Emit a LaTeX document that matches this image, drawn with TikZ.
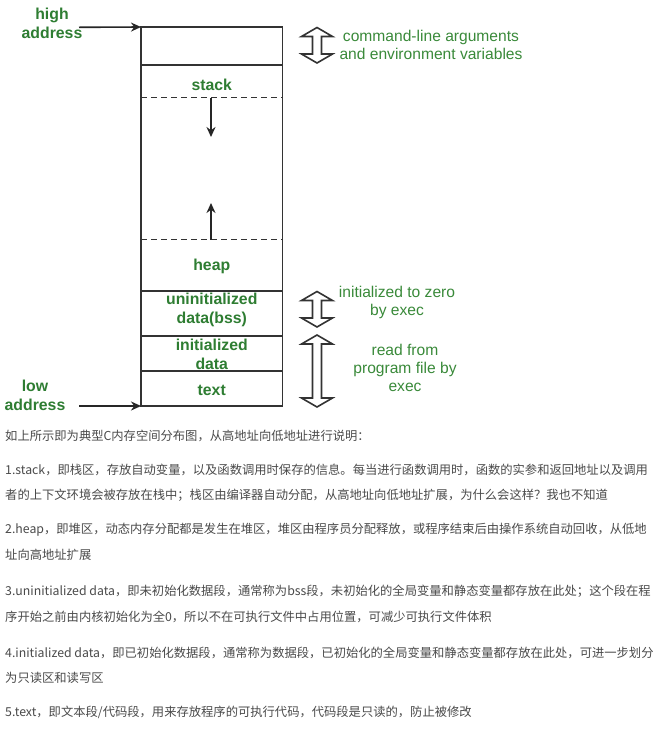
\documentclass[tikz,border=0pt]{standalone}
\usepackage{fontspec}
\setsansfont{Liberation Sans}
\newfontfamily\cjk{Noto Sans CJK SC}
\usetikzlibrary{arrows.meta}
\definecolor{lblgreen}{HTML}{2E7D32}
\definecolor{notegreen}{HTML}{3A8A3A}
\definecolor{txtgray}{HTML}{4A4A4A}
\definecolor{boxline}{HTML}{333333}
\newcommand\hollowarrow[3]{%
  \draw[boxline, line width=1.6pt, fill=white, line join=miter]
    (#1,#2) -- ++(15.5,9) -- ++(-11,0) -- (#1+4.5,#3-9) -- ++(11,0) -- (#1,#3)
    -- ++(-15.5,-9) -- ++(11,0) -- (#1-4.5,#2+9) -- ++(-11,0) -- cycle;}
\begin{document}
\begin{tikzpicture}[x=1pt,y=-1pt,
  seg/.style={draw=boxline, line width=1.8pt, minimum width=141.5pt, inner sep=0pt, outer sep=0pt},
  lbl/.style={font=\sffamily\bfseries\fontsize{15.8}{19}\selectfont, text=lblgreen, align=center, inner sep=0pt},
  note/.style={font=\sffamily\fontsize{15.6}{18}\selectfont, text=notegreen, align=center, inner sep=0pt},
  para/.style={font=\cjk\fontsize{12.3}{15}\selectfont, text=txtgray, anchor=west, inner sep=0pt},
  ptr/.style={-{Stealth[length=10pt,width=9pt]}, line width=1.6pt, draw=black!85},
  dashline/.style={draw=boxline, line width=1.8pt, dash pattern=on 6pt off 4pt}]
\fill[white] (0,0) rectangle (667,729);
\useasboundingbox (0,0) rectangle (667,729);
% memory segments
\node[seg, minimum height=38pt] (args) at (211.75,46) {};
\node[seg, minimum height=226pt] (mid) at (211.75,178) {};
\node[seg, minimum height=45pt] (bss) at (211.75,313.5) {};
\node[seg, minimum height=35pt] (data) at (211.75,353.5) {};
\node[seg, minimum height=35pt] (textseg) at (211.75,388.5) {};
\coordinate (d1) at (141,97.5); \coordinate (d2) at (282.5,97.5);
\coordinate (d3) at (141,239.5); \coordinate (d4) at (282.5,239.5);
\draw[dashline] (d1) -- (d2);
\draw[dashline] (d3) -- (d4);
\coordinate (sd) at (211,97.5); \coordinate (se) at (211,137);
\coordinate (hs) at (211,239.5); \coordinate (he) at (211,203);
\draw[ptr] (sd) -- (se);
\draw[ptr] (hs) -- (he);
% labels
\node[lbl] (stacklbl) at (211.75,85) {stack};
\node[lbl] (heaplbl) at (211.75,266) {heap};
\node[lbl] (bsslbl) at (211.75,310) {uninitialized\\data(bss)};
\node[lbl] (datalbl) at (211.75,354) {initialized\\data};
\node[lbl] (textlbl) at (211.75,390) {text};
\node[lbl] (high) at (52,23.5) {high\\address};
\node[lbl] (low) at (35,395) {low\\address};
\coordinate (hastart) at (79,27.3);
\coordinate (lastart) at (79,406);
\draw[ptr] (hastart) -- (args.north west);
\draw[ptr] (lastart) -- (textseg.south west);
% notes
\hollowarrow{317}{27.5}{63}
\hollowarrow{317}{291.5}{327}
\hollowarrow{317}{335}{407}
\node[note] (argsnote) at (431,44.5) {command-line arguments\\and environment variables};
\node[note] (bssnote) at (397,302.5) {initialized to zero\\by exec};
\node[note] (datanote) at (405,368) {read from\\program file by\\exec};
% paragraph
\node[para] (p0) at (5,436) {如上所示即为典型C内存空间分布图，从高地址向低地址进行说明：};
\node[para] (p1) at (5,469.5) {1.stack，即栈区，存放自动变量，以及函数调用时保存的信息。每当进行函数调用时，函数的实参和返回地址以及调用};
\node[para] (p2) at (5,495) {者的上下文环境会被存放在栈中；栈区由编译器自动分配，从高地址向低地址扩展，为什么会这样？我也不知道};
\node[para] (p3) at (5,530) {2.heap，即堆区，动态内存分配都是发生在堆区，堆区由程序员分配释放，或程序结束后由操作系统自动回收，从低地};
\node[para] (p4) at (5,555) {址向高地址扩展};
\node[para] (p5) at (5,591.5) {3.uninitialized data，即未初始化数据段，通常称为bss段，未初始化的全局变量和静态变量都存放在此处；这个段在程};
\node[para] (p6) at (5,617) {序开始之前由内核初始化为全0，所以不在可执行文件中占用位置，可减少可执行文件体积};
\node[para] (p7) at (5,652.5) {4.initialized data，即已初始化数据段，通常称为数据段，已初始化的全局变量和静态变量都存放在此处，可进一步划分};
\node[para] (p8) at (5,677.5) {为只读区和读写区};
\node[para] (p9) at (5,712.5) {5.text，即文本段/代码段，用来存放程序的可执行代码，代码段是只读的，防止被修改};
\end{tikzpicture}
\end{document}
